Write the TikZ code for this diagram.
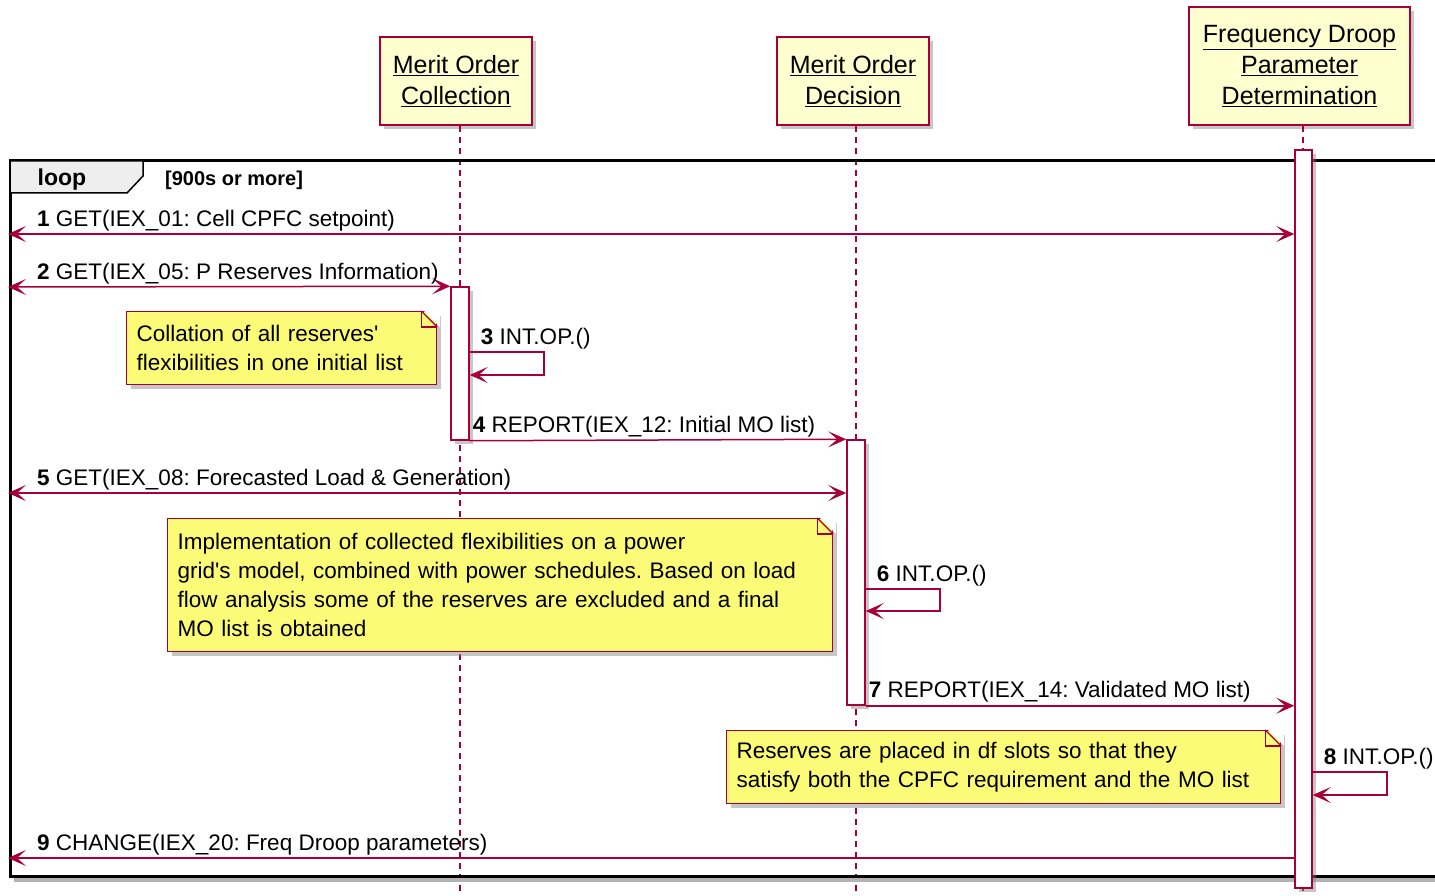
\documentclass[tikz,border=0pt]{standalone}
\usepackage{fontspec}
\setmainfont{Liberation Sans}
\frenchspacing
\usetikzlibrary{arrows.meta,shadows,calc}

\definecolor{umlred}{HTML}{A80036}
\definecolor{partfill}{HTML}{FEFECE}
\definecolor{notefill}{HTML}{FBFB77}
\definecolor{tabfill}{HTML}{EEEEEE}

\newcommand{\msgfont}{\fontsize{22.5}{29}\selectfont}
% folded corner of a note
\newcommand{\notecorner}[1]{%
  \fill[white] ($(#1.north east)+(-16,-3)$) -- ($(#1.north east)+(3,-3)$) -- ($(#1.north east)+(3,16)$) -- cycle;
  \draw[fold] ($(#1.north east)+(-16,0)$) -- ($(#1.north east)+(0,16)$);
  \draw[fold] ($(#1.north east)+(-16,0)$) |- ($(#1.north east)+(0,16)$);
}

\tikzset{
  umlshadow/.style={drop shadow={shadow xshift=4pt, shadow yshift=-4pt, fill=black!50, opacity=0.45}},
  participant/.style={draw=umlred, line width=2pt, fill=partfill, align=center,
    font=\fontsize{25}{31}\selectfont, umlshadow},
  lifeline/.style={umlred, line width=1.5pt, dash pattern=on 6pt off 5pt},
  actbar/.style={draw=umlred, line width=1.5pt, fill=white, minimum width=18pt,
    inner sep=0pt, umlshadow},
  msg/.style={umlred, line width=1.5pt},
  msglabel/.style={anchor=base west, inner sep=0pt, font=\msgfont},
  notebox/.style={rectangle, draw=umlred, line width=1.2pt, fill=notefill, align=left,
    anchor=north west, inner xsep=10pt, inner ysep=0pt, font=\msgfont, umlshadow},
  fold/.style={umlred, line width=1.2pt},
  >={Stealth[length=18pt, width=16pt, inset=9pt]}
}

\begin{document}
\begin{tikzpicture}[x=1pt, y=-1pt]
\useasboundingbox (0,0) rectangle (1435,896);
\clip (0,0) rectangle (1435,896);

% participants
\node[participant, minimum width=152pt, minimum height=88pt] (moc) at (456,81)
  {\underline{Merit Order}\\\underline{Collection}};
\node[participant, minimum width=152pt, minimum height=88pt] (mod) at (853,81)
  {\underline{Merit Order}\\\underline{Decision}};
\node[participant, minimum width=221pt, minimum height=118pt] (fdpd) at (1299.5,66)
  {\underline{Frequency Droop}\\\underline{Parameter}\\\underline{Determination}};

% lifelines
\draw[lifeline] ([xshift=4pt]moc.south) -- ++(0,775);
\draw[lifeline] ([xshift=3pt]mod.south) -- ++(0,775);
\draw[lifeline] ([xshift=3.5pt]fdpd.south) -- ++(0,775);

% loop frame
\fill[black!30] (14,878) rectangle (1450,882);
\draw[line width=3pt] (1450,161) -- (10,161) -- (10,876) -- (1450,876);
\filldraw[fill=tabfill, line width=1.5pt] (10,161) -- (143,161) -- (143,176)
  -- (127,193) -- (10,193) -- cycle;
\node[font=\bfseries\fontsize{23}{28}\selectfont, inner sep=0pt] (looptag) at (62,180) {loop};
\node[font=\bfseries\fontsize{20}{24}\selectfont, inner sep=0pt, anchor=west] (loopcond)
  at (165,180) {[900s or more]};

% activation bars
\node[actbar, minimum height=153pt] (actmoc) at (460,363.5) {};
\node[actbar, minimum height=265pt] (actmod) at (856,572.5) {};
\node[actbar, minimum height=738pt, minimum width=17pt] (actfdpd) at (1303.5,519) {};

% left ends of the messages
\coordinate (in1) at (8,234);
\coordinate (in2) at (8,287);
\coordinate (in5) at (8,493);
\coordinate (out9) at (8,858);

% 1
\draw[msg, <->] (in1) -- (actfdpd.west |- in1);
\node[msglabel] (m1) at ([shift={(29pt,8pt)}]in1) {\textbf{1} GET(IEX\_01: Cell CPFC setpoint)};
% 2
\draw[msg, <->] (in2) -- (actmoc.north west);
\node[msglabel] (m2) at ([shift={(29pt,8pt)}]in2) {\textbf{2} GET(IEX\_05: P Reserves Information)};
% 3
\coordinate (s3) at (actmoc.east |- 0,352);
\draw[msg, ->] (s3) -- ++(74,0) -- ++(0,23) -- ++(-74,0);
\node[msglabel] (m3) at ([shift={(11pt,8pt)}]s3) {\textbf{3} INT.OP.()};
% 4
\draw[msg, ->] (actmoc.south east) -- (actmod.north west);
\node[msglabel] (m4) at ([shift={(3pt,8pt)}]actmoc.south east) {\textbf{4} REPORT(IEX\_12: Initial MO list)};
% 5
\draw[msg, <->] (in5) -- (actmod.west |- in5);
\node[msglabel] (m5) at ([shift={(29pt,8pt)}]in5) {\textbf{5} GET(IEX\_08: Forecasted Load \& Generation)};
% 6
\coordinate (s6) at (actmod.east |- 0,589);
\draw[msg, ->] (s6) -- ++(74,0) -- ++(0,22) -- ++(-74,0);
\node[msglabel] (m6) at ([shift={(11pt,8pt)}]s6) {\textbf{6} INT.OP.()};
% 7
\draw[msg, ->] (actmod.south east) -- (actfdpd.west |- actmod.south);
\node[msglabel] (m7) at ([shift={(3pt,8pt)}]actmod.south east) {\textbf{7} REPORT(IEX\_14: Validated MO list)};
% 8
\coordinate (s8) at (actfdpd.east |- 0,772);
\draw[msg, ->] (s8) -- ++(74,0) -- ++(0,23) -- ++(-74,0);
\node[msglabel] (m8) at ([shift={(11pt,8pt)}]s8) {\textbf{8} INT.OP.()};
% 9
\draw[msg, ->] (actfdpd.west |- out9) -- (out9);
\node[msglabel] (m9) at ([shift={(29pt,8pt)}]out9) {\textbf{9} CHANGE(IEX\_20: Freq Droop parameters)};

% notes
\node[notebox, minimum width=310pt, minimum height=73pt, text width=290pt] (note1) at (126,311)
  {Collation of all reserves\textquotesingle\\flexibilities in one initial list};
\notecorner{note1}
\node[notebox, minimum width=665pt, minimum height=133pt, text width=645pt] (note2) at (167,518)
  {Implementation of collected flexibilities on a power\\grid\textquotesingle s model, combined with power schedules. Based on load\\flow analysis some of the reserves are excluded and a final\\MO list is obtained};
\notecorner{note2}
\node[notebox, minimum width=554pt, minimum height=73pt, text width=534pt] (note3) at (726,730)
  {Reserves are placed in df slots so that they\\satisfy both the CPFC requirement and the MO list};
\notecorner{note3}

\end{tikzpicture}
\end{document}
